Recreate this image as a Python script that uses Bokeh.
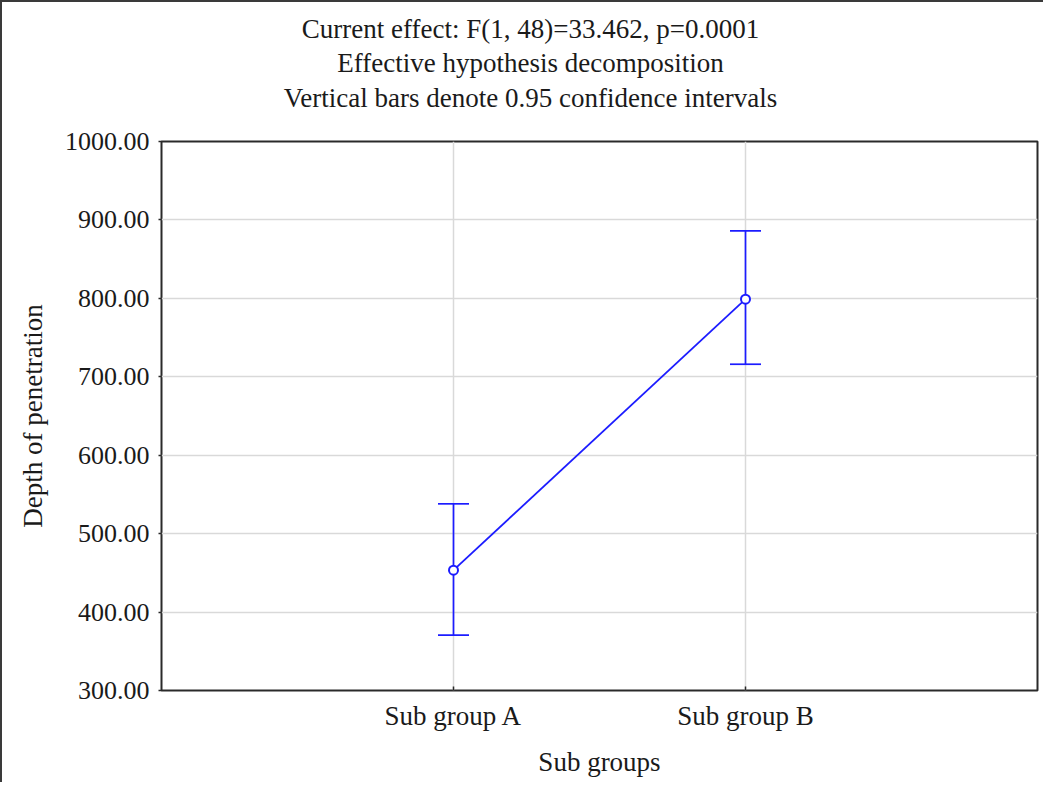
from bokeh.plotting import figure
from bokeh.layouts import column
from bokeh.models import (FactorRange, Range1d, FixedTicker, PrintfTickFormatter,
                          Whisker, TeeHead, ColumnDataSource)
from bokeh.core.properties import value
from bokeh.embed import file_html
from bokeh.resources import INLINE

# ---- data ----
groups = ["Sub group A", "Sub group B"]
means = [453.4, 799.0]
ci_lower = [370.5, 716.0]
ci_upper = [538.0, 886.0]
y_ticks = [300, 400, 500, 600, 700, 800, 900, 1000]
title_lines = [
    "Current effect: F(1, 48)=33.462, p=0.0001",
    "Effective hypothesis decomposition",
    "Vertical bars denote 0.95 confidence intervals",
]
x_label = "Sub groups"
y_label = "Depth of penetration"

FONT = "Liberation Serif"
BLUE = "#1c1cff"
TXT = "#1a1a1a"
FS = "27px"
FS_TICK = "26px"

W = 1041
HEAD_H = 119
MAIN_H = 780 - HEAD_H
FRAME_L = 159
FRAME_R = 6

# ---- heading strip; its frame is aligned with the main frame by the column,
# so the x range is chosen so that one data unit = one canvas pixel ----
head = figure(width=W, height=HEAD_H, x_range=Range1d(FRAME_L, W - FRAME_R),
              y_range=Range1d(HEAD_H, 0),
              x_axis_location=None, y_axis_location=None, output_backend="svg",
              toolbar_location=None, min_border=0,
              min_border_left=FRAME_L, min_border_right=FRAME_R)
head.grid.visible = False
head.outline_line_color = None
head.background_fill_color = "white"
head.border_fill_color = "white"
line_gap = 34.5
first_base = 26
head.text(x=[528] * len(title_lines),
          y=[first_base + i * line_gap for i in range(len(title_lines))],
          text=title_lines, text_align="center", text_baseline="alphabetic",
          text_font=value(FONT), text_font_size=FS, text_color=TXT)

# ---- main plot ----
src = ColumnDataSource(dict(g=groups, m=means, lo=ci_lower, hi=ci_upper))

p = figure(
    x_range=FactorRange(factors=groups, range_padding=0.5, range_padding_units="absolute"),
    y_range=Range1d(300, 1000),
    width=W, height=MAIN_H,
    output_backend="svg", toolbar_location=None,
    min_border_left=FRAME_L, min_border_right=FRAME_R, min_border_top=139 - HEAD_H,
    min_border_bottom=92,
)

p.outline_line_color = "#2a2a2a"
p.outline_line_width = 2
p.background_fill_color = "white"
p.border_fill_color = "white"

# grids
p.xgrid.grid_line_color = "#d9d9d9"
p.ygrid.grid_line_color = "#d9d9d9"
p.xgrid.grid_line_width = 1.5
p.ygrid.grid_line_width = 1.5

# y axis
p.yaxis.ticker = FixedTicker(ticks=y_ticks)
p.yaxis.formatter = PrintfTickFormatter(format="%.2f")
p.yaxis.minor_tick_line_color = None
p.yaxis.major_tick_out = 3
p.yaxis.major_tick_in = 0
p.yaxis.major_label_standoff = 9
p.yaxis.major_label_text_font_size = FS_TICK
p.yaxis.axis_label = y_label
p.yaxis.axis_label_standoff = 14

# x axis
p.xaxis.major_tick_out = 0
p.xaxis.major_tick_in = 4
p.xaxis.major_label_standoff = 10
p.xaxis.major_label_text_font_size = FS
p.xaxis.axis_label = x_label
p.xaxis.axis_label_standoff = 13

for ax in (p.xaxis, p.yaxis):
    ax.axis_line_color = None
    ax.major_tick_line_color = "#2a2a2a"
    ax.major_tick_line_width = 1.5
    ax.major_label_text_font = FONT
    ax.major_label_text_color = TXT
    ax.axis_label_text_font = FONT
    ax.axis_label_text_font_size = FS
    ax.axis_label_text_font_style = "normal"
    ax.axis_label_text_color = TXT

# error bars
p.add_layout(Whisker(
    base="g", lower="lo", upper="hi", source=src,
    line_color=BLUE, line_width=1.7,
    upper_head=TeeHead(size=31, line_color=BLUE, line_width=1.7),
    lower_head=TeeHead(size=31, line_color=BLUE, line_width=1.7),
))

# mean line + markers
p.line(x="g", y="m", source=src, line_color=BLUE, line_width=1.8)
p.scatter(x="g", y="m", source=src, marker="circle", size=9,
          line_color=BLUE, line_width=2, fill_color="white")

layout = column(head, p, spacing=0)
layout.styles = {"border-left": "2px solid #3a3a3a", "border-top": "2px solid #3a3a3a"}

open("out.html", "w").write(file_html(layout, INLINE))
